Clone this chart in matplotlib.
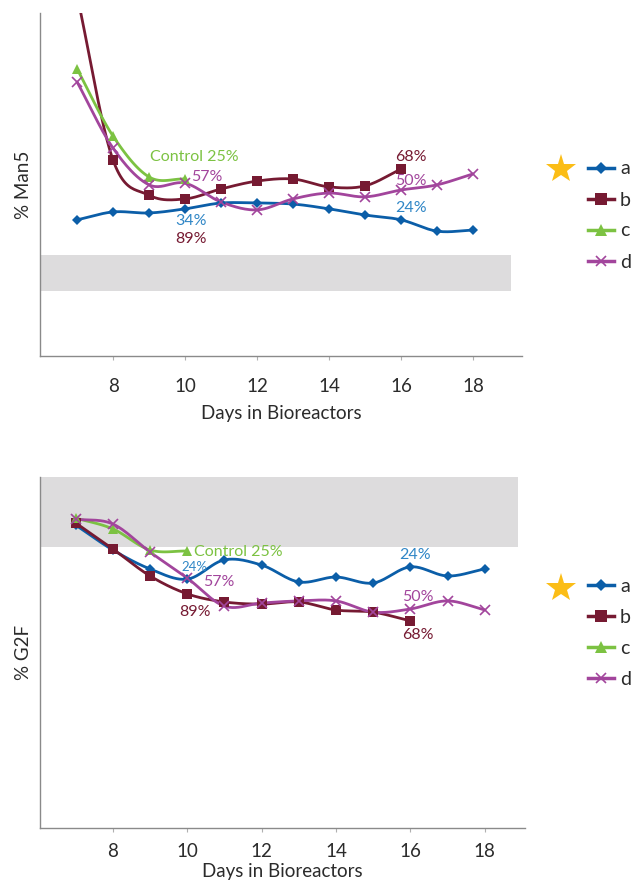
import numpy as np
import matplotlib
matplotlib.use("Agg")
import matplotlib.pyplot as plt
from matplotlib.lines import Line2D

plt.rcParams['font.family'] = ['Lato', 'DejaVu Sans']

# ---- data (relative level, arbitrary units) ----
days_full = [7, 8, 9, 10, 11, 12, 13, 14, 15, 16, 17, 18]
days_b = [7, 8, 9, 10, 11, 12, 13, 14, 15, 16]
days_c = [7, 8, 9, 10]

man5_a = [39.7, 42.0, 41.7, 42.9, 44.6, 44.6, 44.3, 42.9, 41.1, 39.7, 36.4, 36.7]
man5_b = [105.2, 57.1, 46.9, 45.8, 48.7, 51.0, 51.6, 49.3, 49.6, 54.5]
man5_c = [83.7, 64.1, 52.2, 51.6]
man5_d = [79.9, 60.6, 49.9, 50.4, 44.9, 42.6, 45.8, 47.5, 46.4, 48.4, 49.9, 53.1]
man5_band = [19.0, 29.4]

g2f_a = [86.3, 79.2, 73.8, 70.9, 76.4, 74.9, 70.1, 71.5, 69.8, 74.4, 71.8, 73.8]
g2f_b = [86.9, 79.5, 71.8, 66.7, 64.4, 63.8, 64.4, 62.1, 61.5, 59.0]
g2f_c = [88.3, 85.2, 79.2, 78.9]
g2f_d = [88.0, 86.6, 78.6, 71.2, 63.2, 64.1, 64.7, 64.7, 61.5, 62.4, 64.7, 62.1]
g2f_band = [80.1, 100.0]

series_labels = ['a', 'b', 'c', 'd']
xticks = [8, 10, 12, 14, 16, 18]

BLUE = '#0b5ea8'
BLUE_TXT = '#2f86c6'
RED = '#761a32'
GREEN = '#7cc242'
PURPLE = '#a2459c'
GOLD = '#fbbd16'
TEXT = '#2b2b2b'

styles = {
    'a': dict(color=BLUE, marker='D', ms=5.5, mew=0),
    'b': dict(color=RED, marker='s', ms=7, mew=0),
    'c': dict(color=GREEN, marker='^', ms=7.5, mew=0),
    'd': dict(color=PURPLE, marker='x', ms=6.5, mew=1.2),
}


def smooth(x, y, n=24):
    """Catmull-Rom curve through the points."""
    pts = np.column_stack([x, y]).astype(float)
    P = np.vstack([2 * pts[0] - pts[1], pts, 2 * pts[-1] - pts[-2]])
    out = []
    t = np.linspace(0, 1, n, endpoint=False)[:, None]
    for i in range(1, len(P) - 2):
        p0, p1, p2, p3 = P[i - 1], P[i], P[i + 1], P[i + 2]
        seg = 0.5 * (2 * p1 + (-p0 + p2) * t
                     + (2 * p0 - 5 * p1 + 4 * p2 - p3) * t ** 2
                     + (-p0 + 3 * p1 - 3 * p2 + p3) * t ** 3)
        out.append(seg)
    out.append(pts[-1:])
    c = np.vstack(out)
    return c[:, 0], c[:, 1]


def draw_series(ax, x, y, key):
    st = styles[key]
    sx, sy = smooth(x, y)
    ax.plot(sx, sy, color=st['color'], lw=2.0, solid_capstyle='round', zorder=3)
    ax.plot(x, y, ls='none', color=st['color'], marker=st['marker'],
            ms=st['ms'], mew=st['mew'], zorder=4)


def style_axes(ax, xlim, ylim, tick_pad, xlabel_pad):
    ax.set_xlim(*xlim)
    ax.set_ylim(*ylim)
    for s in ['top', 'right']:
        ax.spines[s].set_visible(False)
    for s in ['left', 'bottom']:
        ax.spines[s].set_color('#8a8a8a')
        ax.spines[s].set_linewidth(1.0)
    ax.set_yticks([])
    ax.set_xticks(xticks)
    ax.tick_params(axis='x', length=3, width=0.8, color='#b0b0b0',
                   labelsize=13.5, labelcolor=TEXT, pad=tick_pad)
    ax.set_xlabel('Days in Bioreactors', fontsize=13.5, color=TEXT, labelpad=xlabel_pad)


def add_legend(ax, anchor):
    handles = []
    for k in series_labels:
        st = styles[k]
        handles.append(Line2D([0], [0], color=st['color'], lw=2.5, marker=st['marker'],
                              ms=st['ms'] + 1, mew=st['mew']))
    leg = ax.legend(handles, series_labels, loc='center left', bbox_to_anchor=anchor,
                    bbox_transform=fig.transFigure,
                    frameon=False, fontsize=14, handlelength=1.35, handletextpad=0.3,
                    labelspacing=0.72, borderaxespad=0, borderpad=0)
    for t in leg.get_texts():
        t.set_color(TEXT)


fig = plt.figure(figsize=(6.41, 8.82), dpi=100)
W, H = 641.0, 882.0

# ---- % Man5 ----
ax1 = fig.add_axes([40 / W, 1 - 356 / H, 482 / W, 343 / H])
ax1.fill_between([5.97, 19.05], man5_band[0], man5_band[1], color='#dddcdd', lw=0, zorder=1)
draw_series(ax1, days_full, man5_a, 'a')
draw_series(ax1, days_b, man5_b, 'b')
draw_series(ax1, days_c, man5_c, 'c')
draw_series(ax1, days_full, man5_d, 'd')
style_axes(ax1, (5.97, 19.36), (0, 100), 13, 7)
ax1.set_ylabel('% Man5', fontsize=13.5, color=TEXT, labelpad=6)

ann = dict(fontsize=11.5, ha='center', va='center', zorder=5)
ax1.text(10.25, 58.0, 'Control 25%', color=GREEN, **ann)
ax1.text(10.6, 52.2, '57%', color=PURPLE, **ann)
ax1.text(10.17, 39.4, '34%', color=BLUE_TXT, **ann)
ax1.text(10.17, 34.1, '89%', color=RED, **ann)
ax1.text(16.28, 58.0, '68%', color=RED, **ann)
ax1.text(16.28, 51.0, '50%', color=PURPLE, **ann)
ax1.text(16.28, 43.1, '24%', color=BLUE_TXT, **ann)

# ---- % G2F ----
ax2 = fig.add_axes([40 / W, 1 - 828 / H, 485 / W, 351 / H])
ax2.fill_between([6.04, 18.9], g2f_band[0], g2f_band[1], color='#dddcdd', lw=0, zorder=1)
draw_series(ax2, days_full, g2f_a, 'a')
draw_series(ax2, days_b, g2f_b, 'b')
draw_series(ax2, days_c, g2f_c, 'c')
draw_series(ax2, days_full, g2f_d, 'd')
style_axes(ax2, (6.04, 19.08), (0, 100), 8, 2)
ax2.set_ylabel('% G2F', fontsize=13.5, color=TEXT, labelpad=6)

ax2.text(11.36, 78.6, 'Control 25%', color=GREEN, **ann)
ax2.text(10.19, 74.4, '24%', color=BLUE_TXT, fontsize=9.5, ha='center', va='center',
         zorder=5, fontstretch='condensed')
ax2.text(10.86, 70.1, '57%', color=PURPLE, **ann)
ax2.text(10.2, 61.5, '89%', color=RED, **ann)
ax2.text(16.13, 77.8, '24%', color=BLUE_TXT, **ann)
ax2.text(16.19, 65.8, '50%', color=PURPLE, **ann)
ax2.text(16.19, 55.0, '68%', color=RED, **ann)

# legends and stars to the right of each panel
add_legend(ax1, (588 / W, 1 - 215.5 / H))
add_legend(ax2, (588 / W, 1 - 633 / H))
fig.lines.append(Line2D([561 / W], [1 - 169 / H], transform=fig.transFigure, marker='*',
                        ms=22, color=GOLD, mew=0, ls='none'))
fig.lines.append(Line2D([561 / W], [1 - 588 / H], transform=fig.transFigure, marker='*',
                        ms=22, color=GOLD, mew=0, ls='none'))

fig.savefig('out.png', dpi=100)
